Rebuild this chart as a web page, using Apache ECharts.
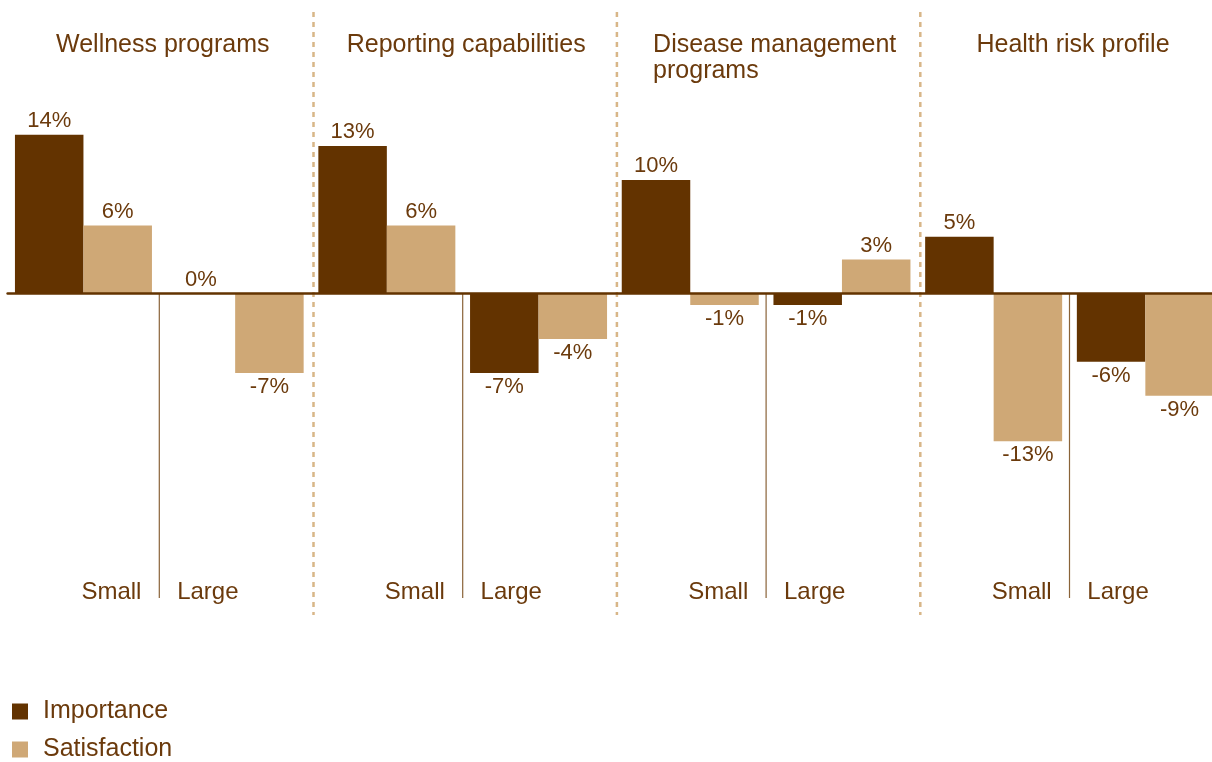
<!DOCTYPE html>
<html>
<head>
<meta charset="utf-8">
<title>Importance and satisfaction by plan feature</title>
<script src="https://cdn.jsdelivr.net/npm/echarts@6/dist/echarts.min.js"></script>
<style>
  html, body { margin: 0; padding: 0; background: #ffffff; }
  #chart { width: 1212px; height: 762px; }
</style>
</head>
<body>
<div id="chart"></div>
<script>
// Feature panels, each split into small and large employers
const panels = ['Wellness programs', 'Reporting capabilities', 'Disease management\nprograms', 'Health risk profile'];
const sizes = ['Small', 'Large'];

// Change in rating (%), in order: panel by panel, Small then Large
const importance   = [14, 0, 13, -7, 10, -1, 5, -6];
const satisfaction = [6, -7, 6, -4, -1, 3, -13, -9];

const seriesNames = ['Importance', 'Satisfaction'];

const DARK = '#633300';
const LIGHT = '#cfa876';
const TEXT = '#6b3a0c';
const FONT = '"Liberation Sans", Arial, Helvetica, sans-serif';

// one category per panel/size pair
const categories = [];
panels.forEach(function (p) { sizes.forEach(function (s) { categories.push(p + '|' + s); }); });

function barData(values) {
  return values.map(function (v) {
    return { value: v, label: { position: v < 0 ? 'bottom' : 'top' } };
  });
}

// divider lines: right edge of each "Small" category, and right edge of each panel
const sizeDividers = [[0, 0], [2, 0], [4, 0], [6, 0]];
const panelDividers = [[1, 0], [3, 0], [5, 0]];

const Y_MAX = 24.8, Y_MIN = -28.3, SIZE_DIVIDER_END = -26.8;

function dividerRenderer(dashed) {
  return function (params, api) {
    const idx = api.value(0);
    const half = api.size([1, 0])[0] / 2;
    const x = api.coord([idx, 0])[0] + half + (dashed ? 2.5 : 0);
    const y1 = api.coord([idx, dashed ? Y_MAX : 0])[1];
    const y2 = api.coord([idx, dashed ? Y_MIN : SIZE_DIVIDER_END])[1];
    return {
      type: 'line',
      shape: { x1: x, y1: y1, x2: x, y2: y2 },
      style: dashed
        ? { stroke: '#d8b688', lineWidth: 2.5, lineDash: [5, 5] }
        : { stroke: '#8a6338', lineWidth: 1.2 }
    };
  };
}

const chart = echarts.init(document.getElementById('chart'), null, { renderer: 'canvas' });

const valueLabel = {
  show: true,
  distance: 3,
  formatter: '{c}%',
  color: TEXT,
  fontFamily: FONT,
  fontSize: 22
};

function legendBox(name, top) {
  return {
    orient: 'vertical',
    left: 7,
    top: top,
    itemWidth: 16,
    itemHeight: 16,
    icon: 'rect',
    data: [name],
    textStyle: { color: TEXT, fontSize: 25, fontFamily: FONT, padding: [0, 0, 0, 10] }
  };
}

chart.setOption({
  animation: false,
  backgroundColor: '#ffffff',
  textStyle: { fontFamily: FONT },
  grid: { left: 7.6, top: 12, width: 1213.6, height: 603, containLabel: false, outerBoundsMode: 'none' },
  legend: [legendBox(seriesNames[0], 694), legendBox(seriesNames[1], 732)],
  xAxis: [
    {
      // size labels along the bottom
      type: 'category',
      data: categories,
      position: 'bottom',
      axisLine: { show: false, onZero: false },
      axisTick: { show: false },
      axisLabel: {
        inside: true,
        margin: 11,
        interval: 0,
        formatter: function (v) {
          const s = v.split('|')[1];
          return s === 'Small' ? '{s|' + s + '}' : '{l|' + s + '}';
        },
        rich: {
          s: { width: 116, align: 'right', color: TEXT, fontSize: 24, fontFamily: FONT },
          l: { width: 116, align: 'left', color: TEXT, fontSize: 24, fontFamily: FONT }
        }
      }
    },
    {
      // zero baseline
      type: 'category',
      data: categories,
      z: 5,
      axisLine: { show: true, onZero: true, lineStyle: { color: DARK, width: 2.5 } },
      axisTick: { show: false },
      axisLabel: { show: false }
    },
    {
      // panel headings along the top
      type: 'category',
      data: panels,
      position: 'top',
      axisLine: { show: false, onZero: false },
      axisTick: { show: false },
      axisLabel: {
        inside: true,
        margin: 20,
        interval: 0,
        formatter: function (v) {
          if (v.indexOf('\n') >= 0) {
            return v.split('\n').map(function (line) { return '{m|' + line + '}'; }).join('\n');
          }
          return '{t|' + v + '}';
        },
        rich: {
          t: { color: TEXT, fontSize: 25, fontFamily: FONT, lineHeight: 26, padding: [0, 0, 0, 7] },
          m: { width: 226, align: 'left', color: TEXT, fontSize: 25, fontFamily: FONT, lineHeight: 26 }
        }
      }
    }
  ],
  yAxis: {
    type: 'value',
    min: Y_MIN,
    max: Y_MAX,
    show: false,
    splitLine: { show: false }
  },
  series: [
    {
      name: seriesNames[0],
      type: 'bar',
      xAxisIndex: 0,
      barWidth: 68.5,
      barGap: '0%',
      itemStyle: { color: DARK },
      label: valueLabel,
      data: barData(importance)
    },
    {
      name: seriesNames[1],
      type: 'bar',
      xAxisIndex: 0,
      barWidth: 68.5,
      barGap: '0%',
      itemStyle: { color: LIGHT },
      label: valueLabel,
      data: barData(satisfaction)
    },
    {
      type: 'custom',
      xAxisIndex: 0,
      silent: true,
      z: 1,
      renderItem: dividerRenderer(false),
      data: sizeDividers
    },
    {
      type: 'custom',
      xAxisIndex: 0,
      silent: true,
      z: 1,
      renderItem: dividerRenderer(true),
      data: panelDividers
    }
  ]
});
</script>
</body>
</html>
